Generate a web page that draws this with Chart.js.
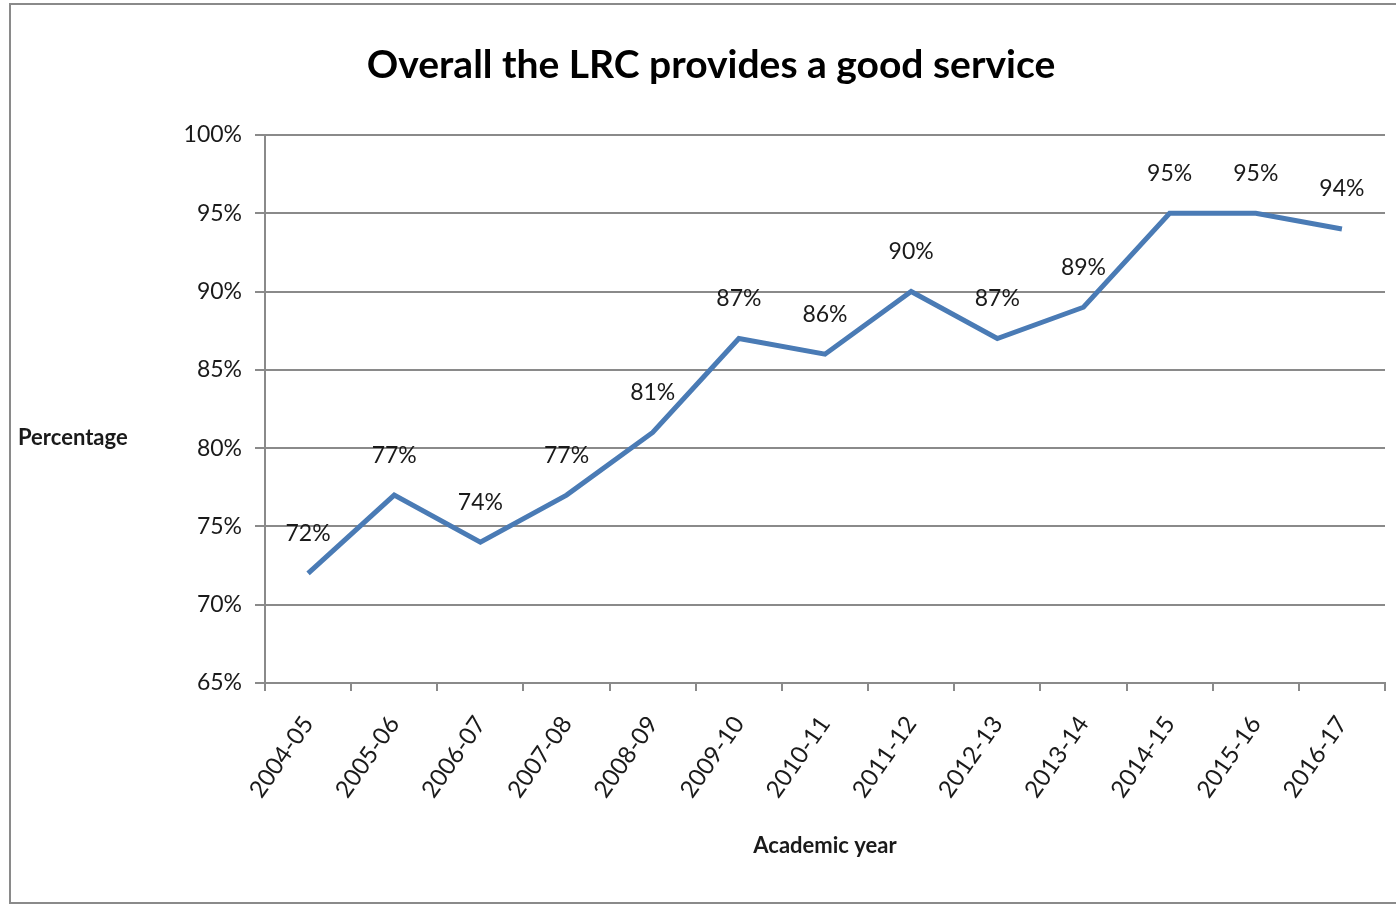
<!DOCTYPE html>
<html>
<head>
<meta charset="utf-8">
<script src="https://cdn.jsdelivr.net/npm/chart.js@4.4.0/dist/chart.umd.min.js"></script>
<style>
  html, body { margin: 0; padding: 0; background: #ffffff; }
  #wrap { width: 1396px; height: 905px; position: relative; }
</style>
</head>
<body>
<div id="wrap"><canvas id="c" width="1396" height="905"></canvas></div>
<script>
const categories = ["2004-05","2005-06","2006-07","2007-08","2008-09","2009-10","2010-11","2011-12","2012-13","2013-14","2014-15","2015-16","2016-17"];
const satisfaction = [72,77,74,77,81,87,86,90,87,89,95,95,94];
const yTicks = [65,70,75,80,85,90,95,100];
const chartTitle = "Overall the LRC provides a good service";
const yTitle = "Percentage";
const xTitle = "Academic year";

const FONT = "Lato, 'Open Sans', sans-serif";

const framePlugin = {
  id: 'frame',
  beforeDraw(chart) {
    const ctx = chart.ctx;
    ctx.save();
    ctx.fillStyle = '#ffffff';
    ctx.fillRect(0, 0, chart.width, chart.height);
    ctx.strokeStyle = '#8a8a8a';
    ctx.lineWidth = 2;
    ctx.strokeRect(10, 4, chart.width + 20, chart.height - 6);
    ctx.restore();
  },
  afterDraw(chart) {
    const ctx = chart.ctx;
    const yScale = chart.scales.y;
    const area = chart.chartArea;
    ctx.save();
    ctx.font = "bold 39px " + FONT;
    ctx.fillStyle = '#000000';
    ctx.textAlign = 'center';
    ctx.textBaseline = 'middle';
    ctx.fillText(chartTitle, 711, area.top - 70);
    ctx.font = "bold 22px " + FONT;
    ctx.fillStyle = '#1a1a1a';
    ctx.textAlign = 'left';
    ctx.fillText(yTitle, 18, (yScale.top + yScale.bottom) / 2 + 29);
    ctx.restore();
  }
};

const labelPlugin = {
  id: 'pointLabels',
  afterDatasetsDraw(chart) {
    const ctx = chart.ctx;
    const meta = chart.getDatasetMeta(0);
    ctx.save();
    ctx.font = "23px " + FONT;
    ctx.fillStyle = '#1a1a1a';
    ctx.textAlign = 'center';
    ctx.textBaseline = 'middle';
    meta.data.forEach((pt, i) => {
      ctx.fillText(satisfaction[i] + '%', pt.x, pt.y - 40);
    });
    ctx.restore();
  }
};

new Chart(document.getElementById('c'), {
  type: 'line',
  data: {
    labels: categories,
    datasets: [{
      data: satisfaction,
      borderColor: '#4a7bb5',
      borderWidth: 5,
      pointRadius: 0,
      pointHoverRadius: 0,
      tension: 0,
      fill: false,
      borderJoinStyle: 'miter',
      borderCapStyle: 'butt'
    }]
  },
  options: {
    responsive: false,
    animation: false,
    devicePixelRatio: 1,
    layout: { padding: { left: 0, right: 11, top: 135, bottom: 0 } },
    plugins: {
      legend: { display: false },
      tooltip: { enabled: false },
      title: { display: false }
    },
    scales: {
      x: {
        type: 'category',
        offset: true,
        afterFit(s) { s.height = 222; },
        grid: {
          offset: true,
          drawOnChartArea: false,
          drawTicks: true,
          tickLength: 8,
          color: '#8a8a8a',
          lineWidth: 2
        },
        border: { display: true, color: '#8a8a8a', width: 2 },
        ticks: {
          color: '#1a1a1a',
          font: { family: FONT, size: 24 },
          minRotation: 55,
          maxRotation: 55,
          padding: 20,
          autoSkip: false
        },
        title: {
          display: true,
          text: xTitle,
          color: '#1a1a1a',
          font: { family: FONT, size: 22, weight: 'bold', lineHeight: 1.2 },
          padding: { top: 0, bottom: 46 }
        }
      },
      y: {
        min: 65,
        max: 100,
        afterFit(s) { s.width = 265; },
        afterBuildTicks(s) { s.ticks = yTicks.map(v => ({ value: v })); },
        grid: {
          drawOnChartArea: true,
          drawTicks: true,
          tickLength: 10,
          color: '#8a8a8a',
          lineWidth: 2
        },
        border: { display: true, color: '#8a8a8a', width: 2 },
        ticks: {
          color: '#1a1a1a',
          font: { family: FONT, size: 23 },
          padding: 13,
          callback: v => v + '%'
        }
      }
    }
  },
  plugins: [framePlugin, labelPlugin]
});
</script>
</body>
</html>
